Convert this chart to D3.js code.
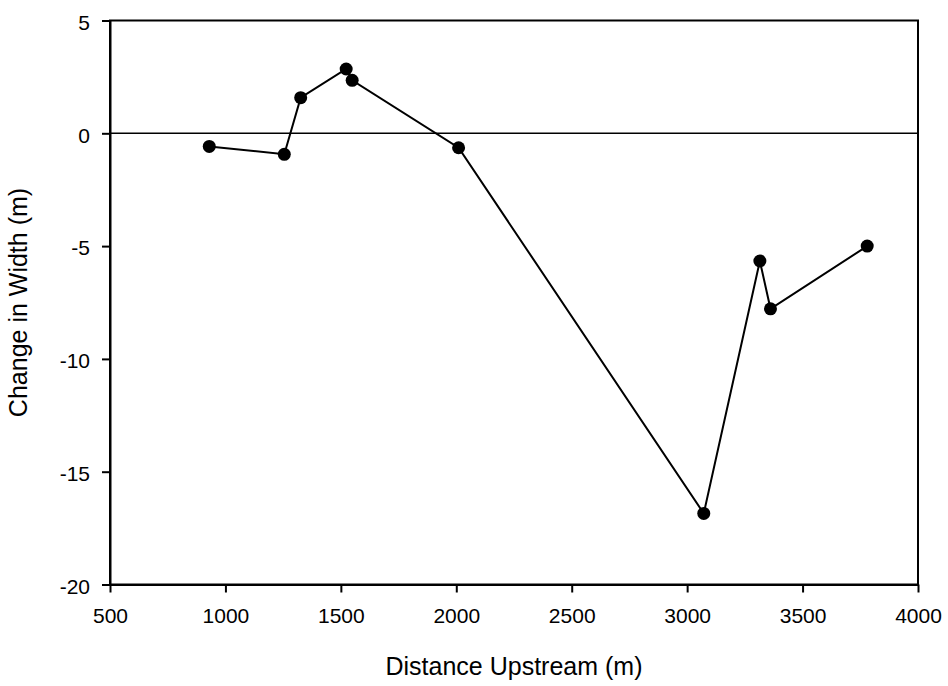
<!DOCTYPE html>
<html>
<head><meta charset="utf-8"/>
<script src="https://d3js.org/d3.v7.min.js"></script>
<style>
body { margin: 0; background: #fff; }
svg { font-family: Arial, "Liberation Sans", sans-serif; }
.axis text { font-size: 21px; fill: #000; }
.axis path, .axis line { stroke: #000; stroke-width: 2px; }
.title { font-size: 25px; fill: #000; }
</style>
</head>
<body>
<div id="chart"></div>
<script>
// distance upstream (m) and change in channel width (m)
var distance = [930, 1255, 1326, 1523, 1549, 2010, 3072, 3315, 3361, 3780];
var widthChange = [-0.58, -0.93, 1.58, 2.85, 2.35, -0.64, -16.85, -5.66, -7.78, -5.0];
var xTicks = [500, 1000, 1500, 2000, 2500, 3000, 3500, 4000];
var yTicks = [5, 0, -5, -10, -15, -20];

var W = 948, H = 686;
var margin = {top: 20.5, left: 110, right: 30, bottom: 101.5};
var width = W - margin.left - margin.right,
    height = H - margin.top - margin.bottom;

// plain labels: no thousands separator, ascii hyphen for negatives
var plain = function(d) { return String(d); };

var svg = d3.select("#chart").append("svg")
    .attr("width", W)
    .attr("height", H);

var g = svg.append("g")
    .attr("transform", "translate(" + margin.left + "," + margin.top + ")");

var x = d3.scaleLinear().domain([500, 4000]).range([0, width]);
var y = d3.scaleLinear().domain([-20, 5]).range([height, 0]);

// frame
g.append("rect")
    .attr("width", width)
    .attr("height", height)
    .attr("fill", "none")
    .attr("stroke", "#000")
    .attr("stroke-width", 2);

// zero reference line
g.append("line")
    .attr("x1", 0).attr("x2", width)
    .attr("y1", y(0)).attr("y2", y(0))
    .attr("stroke", "#000")
    .attr("stroke-width", 1.5);

g.append("g")
    .attr("class", "axis")
    .attr("transform", "translate(0," + height + ")")
    .call(d3.axisBottom(x).tickValues(xTicks).tickFormat(plain)
        .tickSize(8).tickPadding(16).tickSizeOuter(0));

var yAxis = g.append("g")
    .attr("class", "axis")
    .call(d3.axisLeft(y).tickValues(yTicks).tickFormat(plain)
        .tickSize(8).tickPadding(12).tickSizeOuter(0));
yAxis.selectAll("text").attr("dy", "0.42em");

var line = d3.line()
    .x(function(d, i) { return x(distance[i]); })
    .y(function(d) { return y(d); });

g.append("path")
    .datum(widthChange)
    .attr("d", line)
    .attr("fill", "none")
    .attr("stroke", "#000")
    .attr("stroke-width", 2);

g.selectAll(".dot")
    .data(widthChange)
    .enter().append("circle")
    .attr("class", "dot")
    .attr("cx", function(d, i) { return x(distance[i]); })
    .attr("cy", function(d) { return y(d); })
    .attr("r", 6.5)
    .attr("fill", "#000");

// axis titles
svg.append("text")
    .attr("class", "title")
    .attr("x", margin.left + width / 2)
    .attr("y", 675)
    .attr("text-anchor", "middle")
    .text("Distance Upstream (m)");

svg.append("text")
    .attr("class", "title")
    .attr("transform", "translate(27," + (margin.top + height / 2) + ") rotate(-90)")
    .attr("text-anchor", "middle")
    .text("Change in Width (m)");
</script>
</body>
</html>
